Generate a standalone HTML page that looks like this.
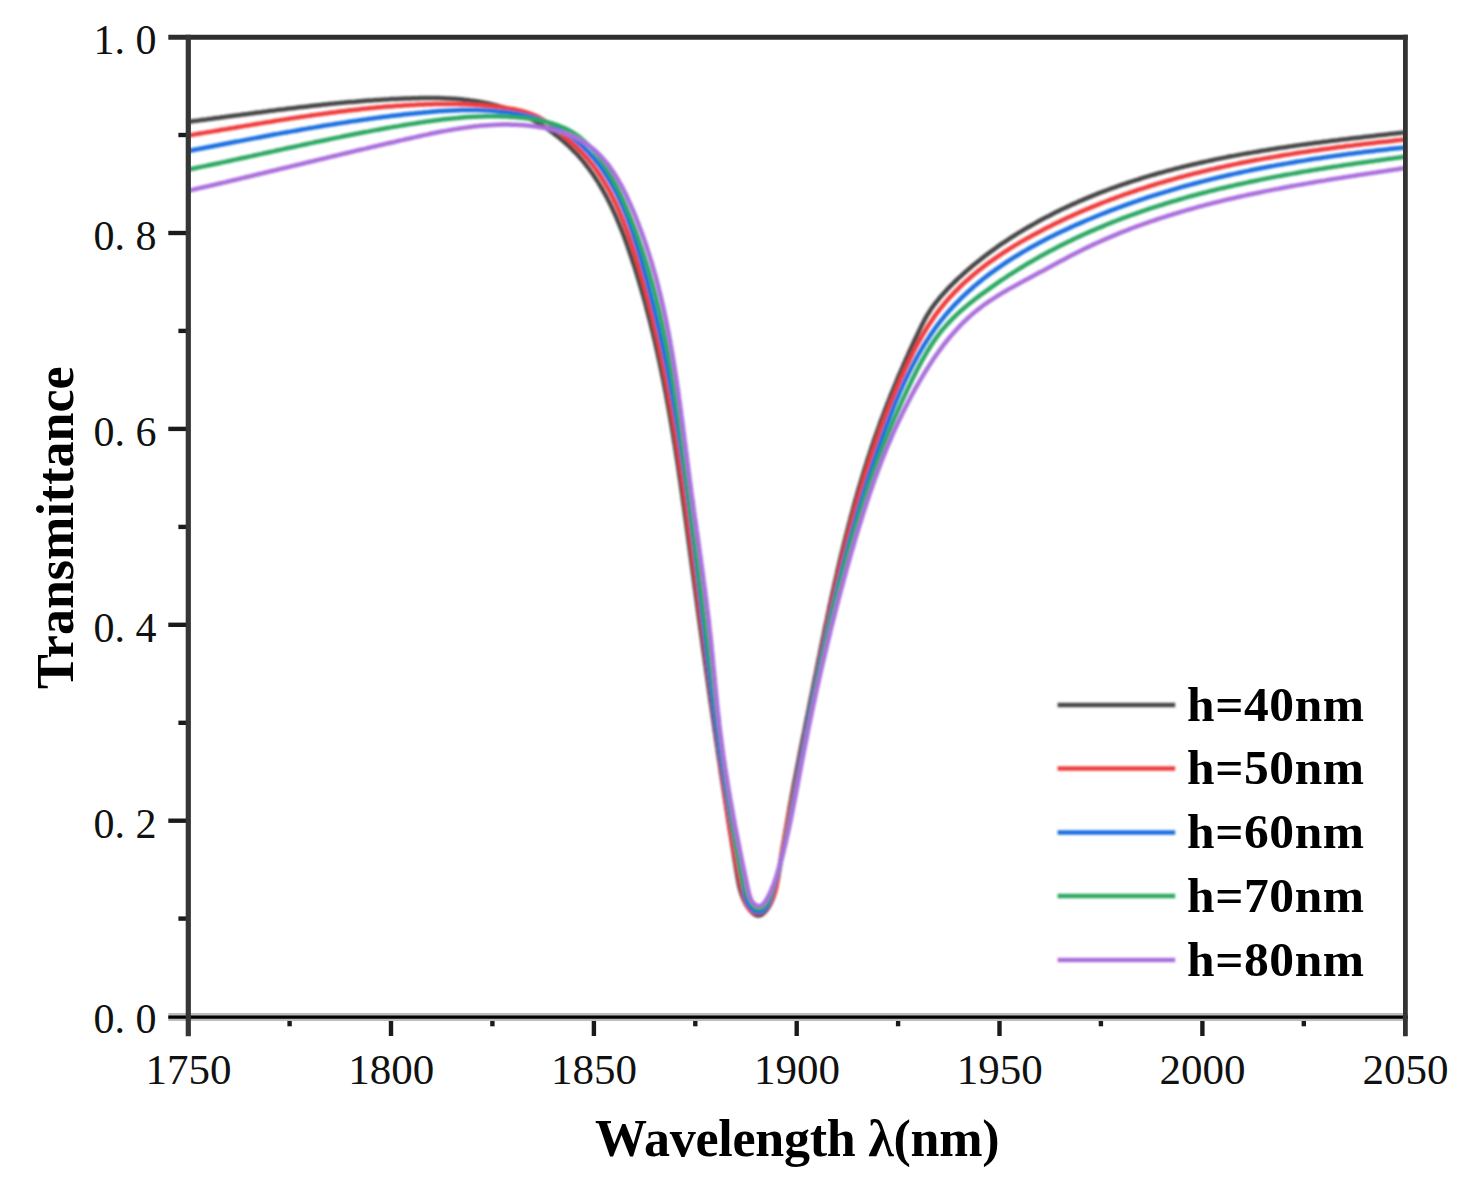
<!DOCTYPE html>
<html><head><meta charset="utf-8"><style>
html,body{margin:0;padding:0;background:#fff;width:1472px;height:1183px;overflow:hidden}
svg{position:absolute;left:0;top:0}
.yl{position:absolute;left:57.5px;width:99px;text-align:right;font:42px "Liberation Serif",serif;line-height:42px;color:#111;white-space:pre}
.xl{position:absolute;top:1049px;width:120px;text-align:center;font:43px "Liberation Serif",serif;line-height:42px;color:#111}
.lt{position:absolute;left:1187px;letter-spacing:0.6px;font:bold 49.5px "Liberation Serif",serif;line-height:52px;color:#000;white-space:pre}
.xt{position:absolute;left:595px;top:1112.5px;letter-spacing:-0.25px;font:bold 52px "Liberation Serif",serif;line-height:52px;color:#000;white-space:pre}
.yt{position:absolute;left:0;top:0;font:bold 52px "Liberation Serif",serif;line-height:52px;color:#000;white-space:pre;transform-origin:0 0;transform:translate(30px,689px) rotate(-90deg)}
</style></head><body>
<svg width="1472" height="1183" viewBox="0 0 1472 1183">
<defs><filter id="b" filterUnits="userSpaceOnUse" x="0" y="0" width="1472" height="1183"><feGaussianBlur stdDeviation="1.0"/></filter></defs>
<g fill="none" stroke-linejoin="round" stroke-linecap="butt" filter="url(#b)">
<path d="M188.4 121.7L191.0 121.4 193.6 121.1 196.2 120.7 198.8 120.4 201.4 120.0 204.0 119.7 206.6 119.4 209.2 119.0 211.8 118.7 214.4 118.3 217.0 118.0 219.5 117.7 222.1 117.3 224.7 117.0 227.3 116.6 229.9 116.3 232.5 115.9 235.1 115.6 237.7 115.2 240.3 114.9 242.9 114.5 245.5 114.2 248.1 113.9 250.7 113.5 253.3 113.2 255.9 112.8 258.5 112.5 261.1 112.2 263.7 111.8 266.3 111.5 268.9 111.1 271.5 110.8 274.1 110.5 276.7 110.1 279.3 109.8 281.9 109.5 284.5 109.2 287.1 108.8 289.7 108.5 292.3 108.2 294.9 107.9 297.5 107.6 300.1 107.3 302.7 107.0 305.3 106.7 307.9 106.4 310.5 106.1 313.1 105.8 315.7 105.5 318.3 105.2 320.9 104.9 323.5 104.6 326.1 104.4 328.7 104.1 331.4 103.8 334.0 103.6 336.6 103.3 339.2 103.1 341.8 102.8 344.4 102.6 347.0 102.3 349.6 102.1 352.2 101.9 354.9 101.7 357.5 101.4 360.1 101.2 362.7 101.0 365.3 100.8 367.9 100.6 370.6 100.4 373.2 100.3 375.8 100.1 378.4 99.9 381.0 99.7 383.6 99.6 386.3 99.4 388.9 99.3 391.5 99.1 394.1 99.0 396.8 98.9 399.4 98.8 402.0 98.7 404.6 98.6 407.3 98.5 409.9 98.4 412.5 98.3 415.2 98.2 417.8 98.2 420.4 98.1 423.0 98.1 425.7 98.0 428.3 98.0 430.9 98.0 433.5 98.1 436.2 98.1 438.8 98.1 441.4 98.2 444.0 98.3 446.6 98.4 449.2 98.5 451.9 98.7 454.5 98.8 457.1 99.0 459.7 99.2 462.2 99.5 464.8 99.8 467.4 100.0 470.0 100.4 472.6 100.7 475.1 101.1 477.7 101.5 480.2 101.9 482.8 102.4 485.3 102.9 487.9 103.4 490.4 104.0 492.9 104.6 495.4 105.2 497.9 105.9 500.4 106.6 502.9 107.4 505.4 108.2 507.8 109.0 510.3 109.9 512.7 110.8 515.2 111.7 517.6 112.7 520.0 113.8 522.4 114.9 524.8 116.0 527.2 117.1 529.6 118.3 531.9 119.6 534.2 120.8 536.5 122.1 538.8 123.5 541.1 124.9 543.4 126.3 545.6 127.7 547.8 129.2 550.0 130.7 552.1 132.3 554.3 133.9 556.4 135.5 558.5 137.1 560.5 138.8 562.6 140.5 564.6 142.2 566.5 144.0 568.5 145.7 570.4 147.6 572.2 149.4 574.1 151.3 575.9 153.1 577.7 155.1 579.4 157.0 581.1 158.9 582.8 160.9 584.4 162.9 586.0 165.0 587.6 167.0 589.2 169.1 590.7 171.2 592.2 173.3 593.7 175.4 595.1 177.5 596.5 179.7 597.9 181.9 599.3 184.1 600.6 186.3 601.9 188.5 603.2 190.8 604.5 193.1 605.7 195.3 607.0 197.6 608.1 200.0 609.3 202.3 610.5 204.6 611.6 207.0 612.7 209.3 613.8 211.7 614.9 214.1 616.0 216.5 617.0 218.9 618.0 221.3 619.0 223.7 620.0 226.2 621.0 228.6 622.0 231.0 622.9 233.5 623.9 236.0 624.8 238.4 625.7 240.9 626.6 243.4 627.5 245.9 628.3 248.4 629.2 250.9 630.0 253.4 630.9 255.9 631.7 258.4 632.5 260.9 633.4 263.4 634.2 265.9 635.0 268.4 635.8 270.9 636.5 273.4 637.3 275.9 638.1 278.4 638.9 281.0 639.6 283.5 640.4 286.0 641.1 288.5 641.8 291.0 642.5 293.6 643.3 296.1 644.0 298.6 644.7 301.2 645.4 303.7 646.1 306.2 646.7 308.8 647.4 311.3 648.1 313.8 648.7 316.4 649.4 318.9 650.0 321.5 650.7 324.0 651.3 326.5 651.9 329.1 652.6 331.6 653.2 334.2 653.8 336.7 654.4 339.3 655.0 341.8 655.6 344.4 656.2 346.9 656.7 349.5 657.3 352.1 657.9 354.6 658.4 357.2 659.0 359.7 659.6 362.3 660.1 364.9 660.6 367.4 661.2 370.0 661.7 372.6 662.2 375.1 662.8 377.7 663.3 380.3 663.8 382.8 664.3 385.4 664.8 388.0 665.3 390.5 665.8 393.1 666.3 395.7 666.7 398.3 667.2 400.8 667.7 403.4 668.2 406.0 668.6 408.6 669.1 411.2 669.6 413.7 670.0 416.3 670.5 418.9 670.9 421.5 671.3 424.1 671.8 426.6 672.2 429.2 672.7 431.8 673.1 434.4 673.5 437.0 673.9 439.6 674.3 442.2 674.8 444.7 675.2 447.3 675.6 449.9 676.0 452.5 676.4 455.1 676.8 457.7 677.2 460.3 677.6 462.9 678.0 465.5 678.4 468.1 678.8 470.6 679.1 473.2 679.5 475.8 679.9 478.4 680.3 481.0 680.7 483.6 681.0 486.2 681.4 488.8 681.8 491.4 682.2 494.0 682.5 496.6 682.9 499.2 683.2 501.8 683.6 504.4 684.0 507.0 684.3 509.5 684.7 512.1 685.0 514.7 685.4 517.3 685.8 519.9 686.1 522.5 686.5 525.1 686.8 527.7 687.2 530.3 687.5 532.9 687.9 535.5 688.2 538.1 688.6 540.7 688.9 543.3 689.3 545.9 689.6 548.5 690.0 551.1 690.3 553.7 690.7 556.2 691.0 558.8 691.4 561.4 691.7 564.0 692.1 566.6 692.4 569.2 692.8 571.8 693.1 574.4 693.5 577.0 693.8 579.6 694.2 582.2 694.5 584.8 694.9 587.4 695.2 589.9 695.6 592.5 695.9 595.1 696.3 597.7 696.6 600.3 697.0 602.9 697.3 605.5 697.7 608.1 698.0 610.7 698.4 613.2 698.7 615.8 699.1 618.4 699.4 621.0 699.8 623.6 700.1 626.2 700.5 628.8 700.9 631.4 701.2 634.0 701.6 636.5 701.9 639.1 702.3 641.7 702.6 644.3 703.0 646.9 703.3 649.5 703.7 652.1 704.1 654.7 704.4 657.2 704.8 659.8 705.1 662.4 705.5 665.0 705.9 667.6 706.2 670.2 706.6 672.8 707.0 675.4 707.3 678.0 707.7 680.5 708.0 683.1 708.4 685.7 708.8 688.3 709.1 690.9 709.5 693.5 709.9 696.1 710.2 698.7 710.6 701.3 711.0 703.8 711.4 706.4 711.7 709.0 712.1 711.6 712.5 714.2 712.8 716.8 713.2 719.4 713.6 722.0 714.0 724.6 714.3 727.2 714.7 729.8 715.1 732.4 715.5 734.9 715.8 737.5 716.2 740.1 716.6 742.7 717.0 745.3 717.4 747.9 717.7 750.5 718.1 753.1 718.5 755.7 718.9 758.3 719.3 760.9 719.7 763.5 720.1 766.1 720.4 768.7 720.8 771.3 721.2 773.9 721.6 776.5 722.0 779.1 722.4 781.7 722.8 784.3 723.2 786.9 723.6 789.5 724.0 792.1 724.4 794.7 724.8 797.3 725.2 799.9 725.6 802.5 726.0 805.1 726.4 807.7 726.8 810.3 727.2 812.9 727.6 815.5 728.0 818.1 728.4 820.7 728.8 823.3 729.2 825.9 729.6 828.5 730.0 831.1 730.5 833.7 730.9 836.3 731.3 838.9 731.7 841.5 732.1 844.2 732.5 846.8 733.0 849.4 733.4 852.0 733.8 854.6 734.2 857.2 734.6 859.8 735.1 862.4 735.5 865.1 735.9 867.7 736.3 870.3 736.8 872.9 737.2 875.5 737.7 878.1 738.2 880.7 738.7 883.3 739.2 885.8 739.9 888.4 740.5 890.8 741.3 893.3 742.1 895.7 743.0 898.0 744.0 900.3 745.1 902.6 746.3 904.8 747.7 906.9 749.1 908.9 750.7 910.9 752.5 912.7 754.4 914.3 756.4 915.3 758.5 915.5 760.7 915.0 762.9 913.7 764.9 911.9 766.8 909.7 768.5 907.3 770.0 904.9 771.2 902.4 772.2 900.0 773.2 897.5 773.9 895.0 774.6 892.4 775.2 889.9 775.8 887.4 776.4 884.8 776.9 882.3 777.4 879.7 778.0 877.2 778.4 874.6 778.9 872.0 779.4 869.5 779.9 866.9 780.3 864.3 780.7 861.7 781.2 859.2 781.6 856.6 782.0 854.0 782.4 851.4 782.8 848.8 783.2 846.2 783.6 843.7 784.1 841.1 784.5 838.5 784.9 835.9 785.3 833.3 785.7 830.7 786.1 828.1 786.6 825.6 787.0 823.0 787.4 820.4 787.9 817.8 788.3 815.2 788.8 812.7 789.2 810.1 789.7 807.5 790.1 804.9 790.6 802.4 791.1 799.8 791.5 797.2 792.0 794.6 792.5 792.1 793.0 789.5 793.4 786.9 793.9 784.3 794.4 781.8 794.9 779.2 795.4 776.6 795.9 774.1 796.4 771.5 796.9 768.9 797.4 766.4 797.9 763.8 798.4 761.2 798.9 758.7 799.4 756.1 799.9 753.5 800.4 751.0 800.9 748.4 801.4 745.8 801.9 743.3 802.4 740.7 802.9 738.1 803.4 735.5 804.0 733.0 804.5 730.4 805.0 727.8 805.5 725.3 806.0 722.7 806.5 720.1 807.0 717.6 807.6 715.0 808.1 712.4 808.6 709.9 809.1 707.3 809.6 704.7 810.1 702.2 810.6 699.6 811.1 697.0 811.7 694.5 812.2 691.9 812.7 689.3 813.2 686.7 813.7 684.2 814.2 681.6 814.7 679.0 815.2 676.5 815.8 673.9 816.3 671.3 816.8 668.7 817.3 666.2 817.8 663.6 818.3 661.0 818.8 658.5 819.4 655.9 819.9 653.3 820.4 650.7 820.9 648.2 821.5 645.6 822.0 643.0 822.5 640.5 823.0 637.9 823.6 635.3 824.1 632.8 824.6 630.2 825.1 627.6 825.7 625.1 826.2 622.5 826.8 619.9 827.3 617.4 827.8 614.8 828.4 612.2 828.9 609.7 829.5 607.1 830.0 604.5 830.6 602.0 831.1 599.4 831.7 596.8 832.3 594.3 832.8 591.7 833.4 589.2 834.0 586.6 834.5 584.0 835.1 581.5 835.7 578.9 836.3 576.4 836.9 573.8 837.4 571.3 838.0 568.7 838.6 566.2 839.2 563.6 839.8 561.1 840.4 558.5 841.0 556.0 841.6 553.4 842.3 550.9 842.9 548.3 843.5 545.8 844.1 543.3 844.8 540.7 845.4 538.2 846.0 535.6 846.7 533.1 847.3 530.6 848.0 528.0 848.6 525.5 849.3 523.0 850.0 520.4 850.6 517.9 851.3 515.4 852.0 512.9 852.7 510.3 853.3 507.8 854.0 505.3 854.7 502.8 855.4 500.2 856.2 497.7 856.9 495.2 857.6 492.7 858.3 490.2 859.0 487.7 859.8 485.2 860.5 482.7 861.3 480.2 862.0 477.6 862.8 475.1 863.5 472.6 864.3 470.1 865.1 467.6 865.9 465.2 866.7 462.7 867.4 460.2 868.2 457.7 869.1 455.2 869.9 452.7 870.7 450.2 871.5 447.7 872.3 445.3 873.2 442.8 874.0 440.3 874.9 437.8 875.7 435.4 876.6 432.9 877.5 430.4 878.4 428.0 879.3 425.5 880.1 423.1 881.0 420.6 882.0 418.1 882.9 415.7 883.8 413.2 884.7 410.8 885.7 408.3 886.6 405.9 887.5 403.5 888.5 401.0 889.5 398.6 890.4 396.1 891.4 393.7 892.4 391.3 893.4 388.9 894.4 386.4 895.4 384.0 896.4 381.6 897.4 379.2 898.4 376.7 899.4 374.3 900.5 371.9 901.5 369.5 902.6 367.1 903.6 364.7 904.7 362.3 905.7 359.9 906.8 357.5 907.9 355.1 908.9 352.7 910.0 350.3 911.1 347.9 912.2 345.5 913.3 343.1 914.4 340.7 915.5 338.3 916.7 335.9 917.8 333.6 918.9 331.2 920.1 328.8 921.2 326.4 922.4 324.1 923.6 321.7 924.8 319.4 926.1 317.1 927.4 314.9 928.8 312.7 930.2 310.5 931.6 308.3 933.1 306.2 934.7 304.1 936.2 302.1 937.9 300.1 939.5 298.0 941.2 296.1 942.9 294.1 944.7 292.2 946.4 290.3 948.2 288.4 950.0 286.5 951.9 284.7 953.7 282.8 955.6 281.0 957.5 279.2 959.4 277.4 961.4 275.7 963.3 273.9 965.2 272.2 967.2 270.4 969.2 268.7 971.2 267.0 973.2 265.3 975.2 263.7 977.3 262.0 979.3 260.4 981.4 258.7 983.5 257.1 985.6 255.5 987.7 253.9 989.8 252.4 991.9 250.8 994.0 249.3 996.2 247.7 998.3 246.2 1000.5 244.7 1002.7 243.2 1004.8 241.8 1007.0 240.3 1009.2 238.9 1011.4 237.4 1013.7 236.0 1015.9 234.6 1018.1 233.2 1020.4 231.8 1022.6 230.5 1024.9 229.1 1027.2 227.8 1029.4 226.5 1031.7 225.2 1034.0 223.9 1036.3 222.6 1038.6 221.3 1040.9 220.0 1043.2 218.8 1045.5 217.6 1047.9 216.4 1050.2 215.2 1052.5 214.0 1054.9 212.8 1057.2 211.6 1059.5 210.5 1061.9 209.3 1064.3 208.2 1066.6 207.1 1069.0 206.0 1071.4 204.9 1073.7 203.8 1076.1 202.8 1078.5 201.7 1080.9 200.7 1083.3 199.6 1085.7 198.6 1088.1 197.6 1090.5 196.6 1092.9 195.6 1095.4 194.7 1097.8 193.7 1100.2 192.7 1102.6 191.8 1105.1 190.9 1107.5 190.0 1110.0 189.0 1112.4 188.2 1114.9 187.3 1117.3 186.4 1119.8 185.5 1122.2 184.7 1124.7 183.8 1127.2 183.0 1129.7 182.2 1132.1 181.4 1134.6 180.5 1137.1 179.8 1139.6 179.0 1142.1 178.2 1144.6 177.4 1147.1 176.7 1149.6 175.9 1152.1 175.2 1154.6 174.5 1157.1 173.7 1159.6 173.0 1162.2 172.3 1164.7 171.6 1167.2 170.9 1169.7 170.3 1172.3 169.6 1174.8 168.9 1177.3 168.3 1179.9 167.6 1182.4 167.0 1185.0 166.4 1187.5 165.8 1190.0 165.2 1192.6 164.5 1195.2 164.0 1197.7 163.4 1200.3 162.8 1202.8 162.2 1205.4 161.6 1207.9 161.1 1210.5 160.5 1213.1 160.0 1215.7 159.4 1218.2 158.9 1220.8 158.4 1223.4 157.9 1225.9 157.4 1228.5 156.8 1231.1 156.3 1233.7 155.9 1236.3 155.4 1238.9 154.9 1241.4 154.4 1244.0 153.9 1246.6 153.5 1249.2 153.0 1251.8 152.6 1254.4 152.1 1257.0 151.7 1259.6 151.2 1262.2 150.8 1264.8 150.4 1267.4 150.0 1270.0 149.5 1272.6 149.1 1275.2 148.7 1277.8 148.3 1280.4 147.9 1283.0 147.5 1285.6 147.2 1288.2 146.8 1290.8 146.4 1293.4 146.0 1296.0 145.6 1298.6 145.3 1301.2 144.9 1303.8 144.5 1306.4 144.2 1309.0 143.8 1311.6 143.5 1314.2 143.1 1316.8 142.8 1319.4 142.5 1322.0 142.1 1324.6 141.8 1327.2 141.5 1329.8 141.1 1332.4 140.8 1335.0 140.5 1337.6 140.2 1340.2 139.8 1342.8 139.5 1345.4 139.2 1348.0 138.9 1350.6 138.6 1353.2 138.3 1355.8 138.0 1358.4 137.7 1361.0 137.4 1363.6 137.1 1366.2 136.8 1368.8 136.5 1371.4 136.2 1374.0 135.9 1376.6 135.6 1379.1 135.3 1381.7 135.0 1384.3 134.7 1386.9 134.4 1389.5 134.1 1392.0 133.8 1394.6 133.6 1397.2 133.3 1399.8 133.0 1402.3 132.7 1404.9 132.4" stroke="#474747" stroke-width="4.5"/>
<path d="M188.4 135.4L191.0 135.0 193.6 134.6 196.1 134.1 198.7 133.7 201.3 133.3 203.8 132.9 206.4 132.4 209.0 132.0 211.5 131.6 214.1 131.1 216.7 130.7 219.3 130.3 221.8 129.8 224.4 129.4 227.0 129.0 229.6 128.5 232.1 128.1 234.7 127.7 237.3 127.2 239.9 126.8 242.4 126.4 245.0 125.9 247.6 125.5 250.2 125.1 252.7 124.6 255.3 124.2 257.9 123.8 260.5 123.4 263.1 122.9 265.6 122.5 268.2 122.1 270.8 121.7 273.4 121.3 276.0 120.8 278.5 120.4 281.1 120.0 283.7 119.6 286.3 119.2 288.9 118.8 291.5 118.4 294.0 118.0 296.6 117.6 299.2 117.2 301.8 116.8 304.4 116.5 307.0 116.1 309.6 115.7 312.2 115.3 314.7 115.0 317.3 114.6 319.9 114.2 322.5 113.9 325.1 113.5 327.7 113.2 330.3 112.8 332.9 112.5 335.5 112.2 338.1 111.8 340.6 111.5 343.2 111.2 345.8 110.9 348.4 110.6 351.0 110.3 353.6 110.0 356.2 109.7 358.8 109.4 361.4 109.1 364.0 108.8 366.6 108.6 369.2 108.3 371.8 108.0 374.4 107.8 377.0 107.5 379.6 107.3 382.2 107.1 384.8 106.8 387.4 106.6 390.0 106.4 392.6 106.2 395.2 106.0 397.8 105.8 400.4 105.7 403.0 105.5 405.6 105.3 408.2 105.2 410.8 105.0 413.4 104.9 416.0 104.8 418.6 104.6 421.2 104.5 423.8 104.4 426.4 104.3 429.0 104.2 431.6 104.2 434.2 104.1 436.8 104.1 439.4 104.0 442.0 104.0 444.6 104.0 447.2 104.0 449.8 104.0 452.4 104.0 455.0 104.1 457.7 104.1 460.3 104.2 462.9 104.3 465.5 104.3 468.1 104.5 470.7 104.6 473.3 104.7 475.9 104.9 478.5 105.1 481.2 105.2 483.8 105.5 486.4 105.7 489.0 105.9 491.6 106.2 494.2 106.5 496.9 106.8 499.5 107.1 502.1 107.4 504.7 107.8 507.3 108.2 509.9 108.6 512.5 109.0 515.1 109.5 517.7 110.1 520.2 110.7 522.7 111.3 525.2 112.0 527.7 112.8 530.1 113.6 532.5 114.5 534.9 115.5 537.2 116.6 539.5 117.8 541.7 119.0 543.9 120.4 546.1 121.8 548.2 123.2 550.3 124.8 552.4 126.4 554.4 128.0 556.4 129.7 558.5 131.4 560.5 133.1 562.5 134.8 564.5 136.5 566.5 138.2 568.5 140.0 570.5 141.7 572.5 143.5 574.5 145.2 576.4 147.0 578.3 148.9 580.1 150.7 582.0 152.6 583.8 154.5 585.5 156.4 587.2 158.3 588.9 160.3 590.5 162.3 592.2 164.4 593.7 166.4 595.3 168.5 596.8 170.6 598.3 172.7 599.7 174.8 601.1 177.0 602.5 179.2 603.9 181.3 605.2 183.6 606.5 185.8 607.8 188.0 609.1 190.3 610.3 192.6 611.5 194.9 612.7 197.2 613.8 199.6 615.0 201.9 616.1 204.3 617.2 206.6 618.2 209.0 619.3 211.4 620.3 213.8 621.3 216.3 622.3 218.7 623.3 221.1 624.2 223.6 625.2 226.0 626.1 228.5 627.0 231.0 627.9 233.5 628.8 236.0 629.7 238.4 630.5 241.0 631.3 243.5 632.2 246.0 633.0 248.5 633.8 251.0 634.6 253.5 635.4 256.0 636.2 258.6 636.9 261.1 637.7 263.6 638.5 266.1 639.2 268.6 640.0 271.2 640.7 273.7 641.4 276.2 642.2 278.8 642.9 281.3 643.6 283.8 644.3 286.3 645.0 288.9 645.7 291.4 646.3 293.9 647.0 296.5 647.7 299.0 648.4 301.5 649.0 304.1 649.7 306.6 650.3 309.1 650.9 311.7 651.6 314.2 652.2 316.7 652.8 319.3 653.4 321.8 654.0 324.3 654.6 326.9 655.2 329.4 655.8 332.0 656.4 334.5 657.0 337.0 657.5 339.6 658.1 342.1 658.7 344.7 659.2 347.2 659.8 349.8 660.3 352.3 660.9 354.9 661.4 357.4 661.9 360.0 662.5 362.5 663.0 365.1 663.5 367.6 664.0 370.2 664.5 372.7 665.0 375.3 665.5 377.8 666.0 380.4 666.5 382.9 667.0 385.5 667.5 388.0 667.9 390.6 668.4 393.1 668.9 395.7 669.3 398.3 669.8 400.8 670.3 403.4 670.7 405.9 671.2 408.5 671.6 411.1 672.0 413.6 672.5 416.2 672.9 418.7 673.4 421.3 673.8 423.9 674.2 426.4 674.6 429.0 675.0 431.6 675.5 434.1 675.9 436.7 676.3 439.3 676.7 441.8 677.1 444.4 677.5 447.0 677.9 449.6 678.3 452.1 678.7 454.7 679.1 457.3 679.4 459.8 679.8 462.4 680.2 465.0 680.6 467.6 681.0 470.1 681.3 472.7 681.7 475.3 682.1 477.9 682.5 480.5 682.8 483.0 683.2 485.6 683.6 488.2 683.9 490.8 684.3 493.4 684.6 496.0 685.0 498.5 685.3 501.1 685.7 503.7 686.1 506.3 686.4 508.9 686.8 511.5 687.1 514.1 687.5 516.6 687.8 519.2 688.2 521.8 688.5 524.4 688.8 527.0 689.2 529.6 689.5 532.2 689.9 534.8 690.2 537.4 690.6 540.0 690.9 542.6 691.2 545.2 691.6 547.8 691.9 550.4 692.3 553.0 692.6 555.6 693.0 558.2 693.3 560.8 693.6 563.4 694.0 566.0 694.3 568.6 694.7 571.2 695.0 573.8 695.4 576.4 695.7 579.0 696.0 581.6 696.4 584.2 696.7 586.8 697.1 589.4 697.4 592.0 697.8 594.6 698.1 597.2 698.4 599.8 698.8 602.4 699.1 605.0 699.5 607.7 699.8 610.3 700.2 612.9 700.5 615.5 700.8 618.1 701.2 620.7 701.5 623.3 701.9 625.9 702.2 628.5 702.6 631.1 702.9 633.7 703.3 636.3 703.6 638.9 703.9 641.5 704.3 644.1 704.6 646.7 705.0 649.3 705.3 651.9 705.7 654.5 706.0 657.1 706.4 659.7 706.7 662.3 707.1 664.9 707.4 667.5 707.8 670.1 708.1 672.7 708.4 675.3 708.8 677.9 709.1 680.5 709.5 683.1 709.8 685.7 710.2 688.3 710.5 690.8 710.9 693.4 711.2 696.0 711.6 698.6 711.9 701.2 712.3 703.8 712.6 706.3 713.0 708.9 713.3 711.5 713.7 714.1 714.0 716.6 714.4 719.2 714.7 721.8 715.1 724.3 715.4 726.9 715.8 729.5 716.1 732.0 716.5 734.6 716.8 737.2 717.2 739.7 717.5 742.3 717.9 744.8 718.2 747.4 718.6 749.9 718.9 752.5 719.3 755.0 719.6 757.5 720.0 760.1 720.3 762.6 720.7 765.1 721.0 767.7 721.4 770.2 721.7 772.7 722.1 775.3 722.4 777.8 722.8 780.3 723.1 782.8 723.5 785.3 723.8 787.8 724.2 790.4 724.5 792.9 724.9 795.4 725.3 797.9 725.6 800.4 726.0 802.9 726.4 805.4 726.7 807.9 727.1 810.5 727.5 813.0 727.9 815.5 728.3 818.0 728.7 820.6 729.1 823.1 729.5 825.7 729.9 828.2 730.3 830.8 730.7 833.3 731.2 835.9 731.6 838.5 732.1 841.1 732.5 843.7 733.0 846.3 733.5 848.9 734.0 851.5 734.4 854.2 735.0 856.8 735.5 859.5 736.0 862.2 736.5 864.9 737.1 867.6 737.6 870.3 738.2 873.0 738.8 875.7 739.4 878.5 740.0 881.3 740.6 884.0 741.3 886.9 741.9 889.7 742.6 892.5 743.3 895.3 744.1 898.0 744.9 900.7 745.9 903.1 746.9 905.4 748.1 907.5 749.4 909.3 751.0 910.8 752.7 912.0 754.6 912.8 756.6 913.2 758.7 913.2 760.8 912.7 762.8 911.7 764.7 910.3 766.5 908.5 768.2 906.3 769.8 904.0 771.2 901.4 772.4 898.8 773.5 896.2 774.5 893.6 775.3 891.0 776.0 888.4 776.6 885.8 777.1 883.2 777.6 880.6 778.0 878.0 778.3 875.4 778.7 872.8 779.0 870.2 779.4 867.6 779.8 865.0 780.1 862.4 780.5 859.9 780.9 857.3 781.4 854.7 781.8 852.1 782.2 849.6 782.7 847.0 783.1 844.4 783.6 841.9 784.1 839.3 784.6 836.7 785.0 834.2 785.5 831.6 786.0 829.1 786.5 826.5 787.0 823.9 787.6 821.4 788.1 818.8 788.6 816.3 789.1 813.7 789.6 811.2 790.2 808.6 790.7 806.1 791.2 803.5 791.7 800.9 792.2 798.4 792.8 795.8 793.3 793.3 793.8 790.7 794.3 788.2 794.8 785.6 795.3 783.1 795.8 780.5 796.4 777.9 796.9 775.4 797.4 772.8 797.9 770.3 798.4 767.7 798.9 765.1 799.4 762.6 799.9 760.0 800.4 757.5 800.9 754.9 801.4 752.3 801.9 749.8 802.4 747.2 802.9 744.7 803.4 742.1 803.9 739.5 804.4 737.0 804.9 734.4 805.4 731.8 805.9 729.3 806.4 726.7 806.9 724.2 807.4 721.6 808.0 719.0 808.5 716.5 809.0 713.9 809.5 711.3 810.0 708.8 810.5 706.2 811.0 703.7 811.5 701.1 812.0 698.5 812.5 696.0 813.0 693.4 813.5 690.8 814.0 688.3 814.5 685.7 815.0 683.2 815.5 680.6 816.0 678.0 816.6 675.5 817.1 672.9 817.6 670.4 818.1 667.8 818.6 665.2 819.1 662.7 819.7 660.1 820.2 657.6 820.7 655.0 821.2 652.4 821.7 649.9 822.3 647.3 822.8 644.8 823.3 642.2 823.9 639.6 824.4 637.1 824.9 634.5 825.5 632.0 826.0 629.4 826.5 626.9 827.1 624.3 827.6 621.7 828.2 619.2 828.7 616.6 829.3 614.1 829.8 611.5 830.4 609.0 831.0 606.4 831.5 603.9 832.1 601.3 832.7 598.8 833.2 596.2 833.8 593.7 834.4 591.1 835.0 588.6 835.5 586.0 836.1 583.5 836.7 581.0 837.3 578.4 837.9 575.9 838.5 573.3 839.1 570.8 839.7 568.2 840.3 565.7 840.9 563.2 841.5 560.6 842.2 558.1 842.8 555.6 843.4 553.0 844.1 550.5 844.7 548.0 845.3 545.4 846.0 542.9 846.6 540.4 847.3 537.8 847.9 535.3 848.6 532.8 849.3 530.3 849.9 527.7 850.6 525.2 851.3 522.7 852.0 520.2 852.6 517.7 853.3 515.2 854.0 512.6 854.7 510.1 855.4 507.6 856.2 505.1 856.9 502.6 857.6 500.1 858.3 497.6 859.1 495.1 859.8 492.6 860.5 490.1 861.3 487.6 862.0 485.1 862.8 482.6 863.6 480.1 864.3 477.6 865.1 475.1 865.9 472.6 866.7 470.1 867.5 467.6 868.3 465.2 869.1 462.7 869.9 460.2 870.7 457.7 871.5 455.2 872.4 452.8 873.2 450.3 874.1 447.8 874.9 445.4 875.8 442.9 876.6 440.4 877.5 438.0 878.4 435.5 879.3 433.0 880.1 430.6 881.0 428.1 881.9 425.7 882.9 423.2 883.8 420.8 884.7 418.3 885.6 415.9 886.6 413.4 887.5 411.0 888.5 408.6 889.4 406.1 890.4 403.7 891.4 401.3 892.4 398.8 893.4 396.4 894.4 394.0 895.4 391.6 896.4 389.2 897.4 386.7 898.4 384.3 899.5 381.9 900.5 379.5 901.6 377.1 902.7 374.7 903.7 372.3 904.8 369.9 905.9 367.5 907.0 365.1 908.1 362.8 909.3 360.4 910.4 358.0 911.6 355.7 912.7 353.3 913.9 351.0 915.1 348.7 916.3 346.3 917.6 344.0 918.8 341.7 920.1 339.5 921.4 337.2 922.7 334.9 924.0 332.7 925.3 330.5 926.7 328.2 928.1 326.1 929.5 323.9 930.9 321.7 932.4 319.6 933.8 317.4 935.3 315.3 936.8 313.2 938.4 311.2 940.0 309.1 941.6 307.1 943.2 305.1 944.8 303.1 946.5 301.1 948.2 299.2 949.9 297.3 951.7 295.4 953.4 293.5 955.2 291.6 957.0 289.8 958.9 288.0 960.7 286.2 962.6 284.4 964.5 282.6 966.4 280.9 968.4 279.2 970.3 277.5 972.3 275.8 974.3 274.1 976.3 272.4 978.3 270.8 980.4 269.2 982.4 267.6 984.5 266.0 986.6 264.4 988.7 262.9 990.8 261.3 993.0 259.8 995.1 258.3 997.3 256.8 999.5 255.3 1001.7 253.9 1003.9 252.4 1006.1 251.0 1008.3 249.6 1010.5 248.2 1012.8 246.8 1015.0 245.4 1017.3 244.1 1019.6 242.7 1021.8 241.4 1024.1 240.1 1026.4 238.8 1028.7 237.5 1031.0 236.2 1033.3 234.9 1035.6 233.7 1038.0 232.4 1040.3 231.2 1042.6 230.0 1045.0 228.8 1047.3 227.6 1049.6 226.4 1052.0 225.2 1054.3 224.0 1056.7 222.9 1059.1 221.7 1061.4 220.6 1063.8 219.5 1066.1 218.4 1068.5 217.3 1070.9 216.2 1073.3 215.1 1075.7 214.0 1078.0 213.0 1080.4 211.9 1082.8 210.9 1085.2 209.8 1087.6 208.8 1090.0 207.8 1092.4 206.8 1094.9 205.8 1097.3 204.9 1099.7 203.9 1102.1 202.9 1104.5 202.0 1107.0 201.0 1109.4 200.1 1111.8 199.2 1114.3 198.3 1116.7 197.4 1119.2 196.5 1121.6 195.6 1124.0 194.7 1126.5 193.9 1129.0 193.0 1131.4 192.2 1133.9 191.3 1136.3 190.5 1138.8 189.7 1141.3 188.9 1143.8 188.1 1146.2 187.3 1148.7 186.5 1151.2 185.7 1153.7 185.0 1156.2 184.2 1158.6 183.4 1161.1 182.7 1163.6 182.0 1166.1 181.2 1168.6 180.5 1171.1 179.8 1173.6 179.1 1176.1 178.4 1178.6 177.7 1181.2 177.0 1183.7 176.4 1186.2 175.7 1188.7 175.0 1191.2 174.4 1193.7 173.7 1196.3 173.1 1198.8 172.5 1201.3 171.9 1203.9 171.2 1206.4 170.6 1208.9 170.0 1211.5 169.4 1214.0 168.9 1216.5 168.3 1219.1 167.7 1221.6 167.1 1224.2 166.6 1226.7 166.0 1229.3 165.5 1231.8 164.9 1234.4 164.4 1236.9 163.9 1239.5 163.3 1242.0 162.8 1244.6 162.3 1247.2 161.8 1249.7 161.3 1252.3 160.8 1254.8 160.3 1257.4 159.8 1260.0 159.4 1262.5 158.9 1265.1 158.4 1267.7 158.0 1270.3 157.5 1272.8 157.1 1275.4 156.6 1278.0 156.2 1280.6 155.7 1283.2 155.3 1285.7 154.9 1288.3 154.5 1290.9 154.1 1293.5 153.6 1296.1 153.2 1298.6 152.8 1301.2 152.4 1303.8 152.0 1306.4 151.7 1309.0 151.3 1311.6 150.9 1314.2 150.5 1316.8 150.2 1319.4 149.8 1322.0 149.4 1324.5 149.1 1327.1 148.7 1329.7 148.4 1332.3 148.0 1334.9 147.7 1337.5 147.3 1340.1 147.0 1342.7 146.7 1345.3 146.3 1347.9 146.0 1350.5 145.7 1353.1 145.4 1355.7 145.0 1358.3 144.7 1360.9 144.4 1363.5 144.1 1366.1 143.8 1368.7 143.5 1371.3 143.2 1373.9 142.9 1376.5 142.6 1379.1 142.3 1381.7 142.0 1384.3 141.7 1386.9 141.5 1389.5 141.2 1392.1 140.9 1394.7 140.6 1397.3 140.3 1399.9 140.1 1402.5 139.8 1405.1 139.5" stroke="#f03c3c" stroke-width="4.5"/>
<path d="M188.3 151.0L190.9 150.5 193.5 150.0 196.1 149.5 198.6 149.0 201.2 148.5 203.8 148.0 206.3 147.5 208.9 147.0 211.5 146.5 214.0 146.0 216.6 145.5 219.2 145.0 221.7 144.5 224.3 144.0 226.8 143.5 229.4 143.0 231.9 142.5 234.5 142.0 237.0 141.5 239.6 141.1 242.1 140.6 244.7 140.1 247.2 139.6 249.8 139.1 252.3 138.6 254.9 138.1 257.4 137.7 260.0 137.2 262.5 136.7 265.1 136.2 267.6 135.7 270.1 135.3 272.7 134.8 275.2 134.3 277.8 133.9 280.3 133.4 282.9 132.9 285.4 132.5 287.9 132.0 290.5 131.6 293.0 131.1 295.6 130.7 298.1 130.2 300.7 129.8 303.2 129.3 305.8 128.9 308.3 128.4 310.8 128.0 313.4 127.6 315.9 127.1 318.5 126.7 321.0 126.3 323.6 125.8 326.1 125.4 328.7 125.0 331.2 124.6 333.8 124.2 336.3 123.8 338.9 123.4 341.5 123.0 344.0 122.6 346.6 122.2 349.1 121.8 351.7 121.4 354.3 121.0 356.8 120.7 359.4 120.3 362.0 119.9 364.5 119.6 367.1 119.2 369.7 118.8 372.3 118.5 374.8 118.1 377.4 117.8 380.0 117.4 382.6 117.1 385.2 116.8 387.7 116.5 390.3 116.1 392.9 115.8 395.5 115.5 398.1 115.2 400.7 114.9 403.3 114.6 405.9 114.3 408.5 114.0 411.1 113.7 413.8 113.5 416.4 113.2 419.0 112.9 421.6 112.7 424.2 112.4 426.8 112.2 429.5 112.0 432.1 111.7 434.7 111.5 437.3 111.3 440.0 111.1 442.6 111.0 445.2 110.8 447.8 110.7 450.4 110.5 453.1 110.4 455.7 110.3 458.3 110.2 460.9 110.1 463.5 110.1 466.1 110.0 468.7 110.0 471.3 110.0 473.9 110.0 476.5 110.1 479.1 110.1 481.7 110.2 484.3 110.3 486.8 110.4 489.4 110.6 492.0 110.8 494.6 110.9 497.1 111.2 499.7 111.4 502.2 111.7 504.7 112.0 507.3 112.3 509.8 112.6 512.3 113.0 514.8 113.4 517.3 113.8 519.8 114.3 522.3 114.8 524.8 115.3 527.3 115.9 529.7 116.5 532.2 117.1 534.6 117.8 537.0 118.5 539.5 119.3 541.9 120.1 544.2 121.0 546.6 122.0 549.0 123.0 551.3 124.1 553.6 125.3 556.0 126.5 558.2 127.8 560.5 129.1 562.8 130.6 565.0 132.1 567.2 133.6 569.4 135.2 571.5 136.8 573.6 138.5 575.7 140.3 577.7 142.0 579.7 143.8 581.7 145.7 583.6 147.5 585.5 149.4 587.3 151.3 589.1 153.2 590.9 155.2 592.6 157.1 594.3 159.1 595.9 161.2 597.5 163.2 599.1 165.2 600.6 167.3 602.1 169.4 603.6 171.5 605.0 173.7 606.4 175.8 607.8 178.0 609.1 180.2 610.4 182.4 611.7 184.6 613.0 186.9 614.2 189.1 615.4 191.4 616.6 193.7 617.7 196.0 618.8 198.3 619.9 200.6 621.0 203.0 622.0 205.3 623.1 207.7 624.1 210.1 625.0 212.4 626.0 214.8 627.0 217.2 627.9 219.7 628.8 222.1 629.7 224.5 630.6 227.0 631.4 229.4 632.3 231.9 633.1 234.3 633.9 236.8 634.7 239.3 635.5 241.7 636.3 244.2 637.1 246.7 637.8 249.2 638.6 251.7 639.3 254.2 640.1 256.7 640.8 259.2 641.5 261.7 642.2 264.2 642.9 266.7 643.6 269.2 644.3 271.7 645.0 274.2 645.7 276.7 646.4 279.2 647.1 281.7 647.7 284.2 648.4 286.8 649.1 289.3 649.7 291.8 650.4 294.3 651.0 296.8 651.6 299.3 652.3 301.9 652.9 304.4 653.5 306.9 654.1 309.4 654.7 311.9 655.3 314.5 655.9 317.0 656.5 319.5 657.1 322.1 657.7 324.6 658.3 327.1 658.9 329.6 659.4 332.2 660.0 334.7 660.5 337.3 661.1 339.8 661.6 342.3 662.2 344.9 662.7 347.4 663.3 349.9 663.8 352.5 664.3 355.0 664.8 357.6 665.3 360.1 665.9 362.6 666.4 365.2 666.9 367.7 667.4 370.3 667.9 372.8 668.4 375.4 668.8 377.9 669.3 380.5 669.8 383.0 670.3 385.6 670.7 388.1 671.2 390.7 671.7 393.2 672.1 395.8 672.6 398.4 673.0 400.9 673.5 403.5 673.9 406.0 674.4 408.6 674.8 411.1 675.2 413.7 675.7 416.3 676.1 418.8 676.5 421.4 676.9 423.9 677.4 426.5 677.8 429.1 678.2 431.6 678.6 434.2 679.0 436.8 679.4 439.3 679.8 441.9 680.2 444.5 680.6 447.0 681.0 449.6 681.4 452.2 681.7 454.7 682.1 457.3 682.5 459.9 682.9 462.4 683.3 465.0 683.6 467.6 684.0 470.2 684.4 472.7 684.7 475.3 685.1 477.9 685.4 480.5 685.8 483.0 686.2 485.6 686.5 488.2 686.9 490.8 687.2 493.3 687.6 495.9 687.9 498.5 688.2 501.1 688.6 503.6 688.9 506.2 689.3 508.8 689.6 511.4 689.9 513.9 690.3 516.5 690.6 519.1 690.9 521.7 691.2 524.3 691.6 526.8 691.9 529.4 692.2 532.0 692.5 534.6 692.9 537.2 693.2 539.7 693.5 542.3 693.8 544.9 694.1 547.5 694.5 550.1 694.8 552.7 695.1 555.2 695.4 557.8 695.7 560.4 696.0 563.0 696.3 565.6 696.6 568.1 696.9 570.7 697.3 573.3 697.6 575.9 697.9 578.5 698.2 581.1 698.5 583.6 698.8 586.2 699.1 588.8 699.4 591.4 699.7 594.0 700.0 596.5 700.3 599.1 700.6 601.7 700.9 604.3 701.2 606.9 701.5 609.5 701.8 612.0 702.1 614.6 702.4 617.2 702.7 619.8 703.0 622.4 703.4 624.9 703.7 627.5 704.0 630.1 704.3 632.7 704.6 635.3 704.9 637.9 705.2 640.4 705.5 643.0 705.8 645.6 706.1 648.2 706.4 650.8 706.7 653.3 707.1 655.9 707.4 658.5 707.7 661.1 708.0 663.6 708.3 666.2 708.6 668.8 709.0 671.4 709.3 674.0 709.6 676.5 709.9 679.1 710.2 681.7 710.6 684.3 710.9 686.8 711.2 689.4 711.5 692.0 711.9 694.6 712.2 697.1 712.5 699.7 712.9 702.3 713.2 704.8 713.6 707.4 713.9 710.0 714.2 712.6 714.6 715.1 714.9 717.7 715.3 720.3 715.6 722.8 716.0 725.4 716.3 728.0 716.7 730.5 717.1 733.1 717.4 735.7 717.8 738.2 718.2 740.8 718.5 743.4 718.9 745.9 719.3 748.5 719.6 751.1 720.0 753.6 720.4 756.2 720.8 758.7 721.2 761.3 721.6 763.9 722.0 766.4 722.4 769.0 722.8 771.5 723.2 774.1 723.6 776.6 724.0 779.2 724.4 781.8 724.8 784.3 725.2 786.9 725.6 789.4 726.0 792.0 726.5 794.5 726.9 797.1 727.3 799.6 727.8 802.2 728.2 804.7 728.6 807.3 729.1 809.8 729.5 812.4 730.0 814.9 730.4 817.5 730.9 820.0 731.3 822.6 731.8 825.1 732.2 827.7 732.7 830.2 733.2 832.8 733.6 835.4 734.1 837.9 734.5 840.5 735.0 843.0 735.5 845.6 736.0 848.2 736.4 850.7 736.9 853.3 737.4 855.8 737.8 858.4 738.3 861.0 738.8 863.6 739.3 866.1 739.8 868.7 740.2 871.3 740.7 873.9 741.2 876.4 741.7 879.0 742.2 881.6 742.7 884.2 743.2 886.8 743.6 889.4 744.1 892.0 744.7 894.6 745.3 897.1 746.1 899.5 747.0 901.9 748.1 904.2 749.4 906.3 751.1 908.3 753.0 910.1 755.2 911.6 757.7 912.3 760.4 911.9 762.9 910.7 765.0 909.0 766.7 907.1 768.1 904.9 769.1 902.5 770.1 900.1 770.9 897.6 771.7 895.0 772.5 892.5 773.2 890.0 774.0 887.5 774.7 885.0 775.4 882.5 776.1 879.9 776.8 877.4 777.5 874.9 778.1 872.4 778.8 869.9 779.4 867.3 780.0 864.8 780.6 862.3 781.2 859.8 781.8 857.3 782.4 854.7 783.0 852.2 783.5 849.7 784.1 847.2 784.6 844.6 785.1 842.1 785.7 839.6 786.2 837.0 786.7 834.5 787.2 832.0 787.7 829.4 788.2 826.9 788.7 824.4 789.1 821.8 789.6 819.3 790.1 816.7 790.6 814.2 791.1 811.7 791.5 809.1 792.0 806.6 792.5 804.0 792.9 801.5 793.4 798.9 793.9 796.4 794.4 793.8 794.8 791.3 795.3 788.7 795.8 786.1 796.3 783.6 796.7 781.0 797.2 778.5 797.7 775.9 798.2 773.3 798.6 770.8 799.1 768.2 799.6 765.7 800.1 763.1 800.6 760.5 801.1 758.0 801.5 755.4 802.0 752.8 802.5 750.3 803.0 747.7 803.5 745.1 804.0 742.6 804.5 740.0 805.0 737.4 805.5 734.9 806.0 732.3 806.4 729.7 806.9 727.2 807.4 724.6 807.9 722.1 808.4 719.5 808.9 716.9 809.4 714.4 809.9 711.8 810.5 709.3 811.0 706.7 811.5 704.2 812.0 701.6 812.5 699.0 813.0 696.5 813.5 693.9 814.0 691.4 814.5 688.8 815.1 686.3 815.6 683.8 816.1 681.2 816.6 678.7 817.2 676.1 817.7 673.6 818.2 671.0 818.7 668.5 819.3 666.0 819.8 663.4 820.4 660.9 820.9 658.4 821.4 655.8 822.0 653.3 822.5 650.8 823.1 648.2 823.6 645.7 824.2 643.2 824.7 640.6 825.3 638.1 825.9 635.6 826.4 633.1 827.0 630.5 827.5 628.0 828.1 625.5 828.7 623.0 829.3 620.4 829.8 617.9 830.4 615.4 831.0 612.9 831.6 610.4 832.2 607.9 832.8 605.3 833.4 602.8 834.0 600.3 834.6 597.8 835.2 595.3 835.8 592.8 836.4 590.3 837.0 587.8 837.6 585.3 838.3 582.7 838.9 580.2 839.5 577.7 840.2 575.2 840.8 572.7 841.4 570.2 842.1 567.7 842.7 565.2 843.4 562.7 844.0 560.2 844.7 557.7 845.4 555.2 846.0 552.7 846.7 550.2 847.4 547.7 848.0 545.2 848.7 542.7 849.4 540.2 850.1 537.8 850.8 535.3 851.5 532.8 852.2 530.3 852.9 527.8 853.6 525.3 854.3 522.8 855.1 520.3 855.8 517.8 856.5 515.4 857.3 512.9 858.0 510.4 858.7 507.9 859.5 505.4 860.2 502.9 861.0 500.4 861.8 498.0 862.5 495.5 863.3 493.0 864.1 490.5 864.9 488.0 865.7 485.6 866.4 483.1 867.2 480.6 868.0 478.1 868.9 475.7 869.7 473.2 870.5 470.7 871.3 468.2 872.1 465.8 873.0 463.3 873.8 460.8 874.7 458.3 875.5 455.9 876.4 453.4 877.2 450.9 878.1 448.5 879.0 446.0 879.9 443.5 880.7 441.1 881.6 438.6 882.5 436.1 883.4 433.7 884.3 431.2 885.3 428.7 886.2 426.3 887.1 423.8 888.1 421.3 889.0 418.9 889.9 416.4 890.9 414.0 891.9 411.5 892.8 409.1 893.8 406.6 894.8 404.2 895.8 401.7 896.8 399.3 897.9 396.9 898.9 394.5 899.9 392.0 901.0 389.6 902.1 387.2 903.1 384.8 904.2 382.5 905.3 380.1 906.4 377.7 907.6 375.4 908.7 373.0 909.9 370.7 911.1 368.3 912.2 366.0 913.4 363.7 914.7 361.4 915.9 359.1 917.1 356.8 918.4 354.6 919.7 352.3 921.0 350.1 922.3 347.9 923.6 345.6 925.0 343.5 926.4 341.3 927.8 339.1 929.2 337.0 930.6 334.8 932.0 332.7 933.5 330.6 935.0 328.5 936.5 326.4 938.1 324.4 939.6 322.4 941.2 320.4 942.8 318.4 944.4 316.4 946.0 314.4 947.7 312.5 949.4 310.6 951.1 308.7 952.8 306.8 954.6 304.9 956.3 303.1 958.1 301.3 959.9 299.5 961.7 297.7 963.6 295.9 965.5 294.1 967.3 292.4 969.2 290.7 971.2 289.0 973.1 287.3 975.0 285.6 977.0 284.0 979.0 282.3 981.0 280.7 983.0 279.1 985.0 277.5 987.1 275.9 989.1 274.4 991.2 272.8 993.3 271.3 995.4 269.8 997.5 268.3 999.7 266.8 1001.8 265.3 1004.0 263.9 1006.1 262.4 1008.3 261.0 1010.5 259.6 1012.7 258.2 1014.9 256.8 1017.2 255.5 1019.4 254.1 1021.6 252.8 1023.9 251.4 1026.2 250.1 1028.4 248.8 1030.7 247.5 1033.0 246.2 1035.3 245.0 1037.6 243.7 1039.9 242.5 1042.3 241.2 1044.6 240.0 1046.9 238.8 1049.3 237.6 1051.6 236.5 1054.0 235.3 1056.4 234.1 1058.7 233.0 1061.1 231.8 1063.5 230.7 1065.9 229.6 1068.3 228.5 1070.6 227.4 1073.0 226.3 1075.4 225.2 1077.8 224.2 1080.2 223.1 1082.6 222.1 1085.0 221.0 1087.4 220.0 1089.9 219.0 1092.3 218.0 1094.7 217.0 1097.1 216.0 1099.5 215.0 1101.9 214.0 1104.4 213.1 1106.8 212.1 1109.2 211.2 1111.6 210.2 1114.1 209.3 1116.5 208.4 1118.9 207.5 1121.4 206.6 1123.8 205.7 1126.3 204.8 1128.7 203.9 1131.2 203.1 1133.6 202.2 1136.0 201.4 1138.5 200.5 1141.0 199.7 1143.4 198.9 1145.9 198.0 1148.3 197.2 1150.8 196.4 1153.2 195.6 1155.7 194.9 1158.2 194.1 1160.6 193.3 1163.1 192.6 1165.6 191.8 1168.1 191.1 1170.5 190.3 1173.0 189.6 1175.5 188.9 1178.0 188.1 1180.5 187.4 1182.9 186.7 1185.4 186.0 1187.9 185.3 1190.4 184.7 1192.9 184.0 1195.4 183.3 1197.9 182.7 1200.4 182.0 1202.9 181.4 1205.4 180.7 1207.9 180.1 1210.4 179.5 1212.9 178.9 1215.4 178.2 1217.9 177.6 1220.4 177.0 1222.9 176.5 1225.5 175.9 1228.0 175.3 1230.5 174.7 1233.0 174.1 1235.5 173.6 1238.1 173.0 1240.6 172.5 1243.1 171.9 1245.6 171.4 1248.2 170.9 1250.7 170.3 1253.2 169.8 1255.8 169.3 1258.3 168.8 1260.8 168.3 1263.4 167.8 1265.9 167.3 1268.5 166.8 1271.0 166.3 1273.6 165.9 1276.1 165.4 1278.6 164.9 1281.2 164.5 1283.7 164.0 1286.3 163.6 1288.9 163.1 1291.4 162.7 1294.0 162.3 1296.5 161.8 1299.1 161.4 1301.6 161.0 1304.2 160.6 1306.8 160.1 1309.3 159.7 1311.9 159.3 1314.5 158.9 1317.0 158.5 1319.6 158.2 1322.2 157.8 1324.8 157.4 1327.3 157.0 1329.9 156.6 1332.5 156.3 1335.1 155.9 1337.7 155.5 1340.2 155.2 1342.8 154.8 1345.4 154.5 1348.0 154.1 1350.6 153.8 1353.2 153.5 1355.8 153.1 1358.3 152.8 1360.9 152.5 1363.5 152.1 1366.1 151.8 1368.7 151.5 1371.3 151.2 1373.9 150.9 1376.5 150.6 1379.1 150.3 1381.7 150.0 1384.3 149.7 1386.9 149.4 1389.5 149.1 1392.1 148.8 1394.7 148.5 1397.4 148.2 1400.0 147.9 1402.6 147.7 1405.2 147.4" stroke="#1b6fe0" stroke-width="4.5"/>
<path d="M188.4 169.5L190.9 169.0 193.5 168.5 196.0 168.0 198.5 167.4 201.1 166.9 203.6 166.4 206.1 165.9 208.7 165.3 211.2 164.8 213.7 164.3 216.2 163.7 218.8 163.2 221.3 162.6 223.8 162.1 226.3 161.6 228.9 161.0 231.4 160.5 233.9 159.9 236.4 159.4 239.0 158.8 241.5 158.3 244.0 157.7 246.5 157.2 249.1 156.6 251.6 156.1 254.1 155.5 256.6 155.0 259.2 154.4 261.7 153.9 264.2 153.3 266.7 152.8 269.3 152.2 271.8 151.6 274.3 151.1 276.8 150.5 279.4 150.0 281.9 149.4 284.4 148.9 286.9 148.3 289.4 147.8 292.0 147.2 294.5 146.7 297.0 146.1 299.5 145.6 302.1 145.0 304.6 144.5 307.1 144.0 309.7 143.4 312.2 142.9 314.7 142.3 317.2 141.8 319.8 141.3 322.3 140.7 324.8 140.2 327.3 139.7 329.9 139.1 332.4 138.6 334.9 138.1 337.5 137.6 340.0 137.1 342.5 136.5 345.1 136.0 347.6 135.5 350.1 135.0 352.7 134.5 355.2 134.0 357.7 133.5 360.3 133.0 362.8 132.5 365.3 132.0 367.9 131.6 370.4 131.1 373.0 130.6 375.5 130.1 378.0 129.7 380.6 129.2 383.1 128.7 385.7 128.3 388.2 127.8 390.8 127.4 393.3 126.9 395.9 126.5 398.4 126.1 401.0 125.6 403.5 125.2 406.1 124.8 408.6 124.4 411.2 124.0 413.7 123.6 416.3 123.2 418.8 122.8 421.4 122.4 423.9 122.0 426.5 121.6 429.1 121.3 431.6 120.9 434.2 120.6 436.7 120.2 439.3 119.9 441.9 119.6 444.4 119.3 447.0 119.0 449.6 118.7 452.1 118.5 454.7 118.2 457.3 118.0 459.9 117.7 462.4 117.5 465.0 117.3 467.6 117.1 470.1 117.0 472.7 116.8 475.3 116.7 477.9 116.6 480.4 116.5 483.0 116.4 485.6 116.3 488.2 116.3 490.8 116.3 493.4 116.3 495.9 116.3 498.5 116.3 501.1 116.4 503.7 116.5 506.3 116.6 508.9 116.7 511.4 116.9 514.0 117.1 516.6 117.3 519.2 117.5 521.8 117.7 524.4 118.0 527.0 118.3 529.6 118.7 532.1 119.0 534.7 119.4 537.3 119.9 539.8 120.4 542.3 120.9 544.9 121.5 547.3 122.1 549.8 122.8 552.3 123.5 554.7 124.3 557.1 125.1 559.5 126.0 561.9 127.0 564.2 128.0 566.5 129.1 568.7 130.2 570.9 131.5 573.1 132.8 575.2 134.1 577.3 135.6 579.4 137.1 581.4 138.7 583.4 140.4 585.3 142.2 587.1 144.0 589.0 145.8 590.8 147.8 592.5 149.7 594.2 151.7 595.9 153.8 597.5 155.8 599.1 158.0 600.7 160.1 602.2 162.2 603.7 164.4 605.1 166.6 606.5 168.7 607.9 171.0 609.2 173.2 610.6 175.4 611.8 177.7 613.1 179.9 614.3 182.2 615.5 184.5 616.7 186.8 617.9 189.1 619.0 191.4 620.1 193.7 621.2 196.1 622.3 198.4 623.4 200.8 624.4 203.1 625.4 205.5 626.4 207.9 627.4 210.3 628.4 212.6 629.4 215.0 630.3 217.4 631.3 219.8 632.2 222.2 633.1 224.6 634.1 227.0 635.0 229.4 635.9 231.8 636.7 234.2 637.6 236.6 638.5 239.1 639.3 241.5 640.1 243.9 641.0 246.4 641.8 248.8 642.6 251.2 643.4 253.7 644.2 256.1 644.9 258.6 645.7 261.0 646.5 263.5 647.2 265.9 648.0 268.4 648.7 270.9 649.4 273.3 650.1 275.8 650.8 278.3 651.5 280.8 652.2 283.2 652.8 285.7 653.5 288.2 654.2 290.7 654.8 293.2 655.5 295.7 656.1 298.2 656.7 300.7 657.3 303.2 657.9 305.7 658.5 308.2 659.1 310.7 659.7 313.2 660.3 315.7 660.8 318.2 661.4 320.7 662.0 323.3 662.5 325.8 663.0 328.3 663.6 330.8 664.1 333.4 664.6 335.9 665.1 338.4 665.6 341.0 666.1 343.5 666.6 346.0 667.1 348.6 667.6 351.1 668.1 353.6 668.6 356.2 669.0 358.7 669.5 361.3 669.9 363.8 670.4 366.4 670.8 368.9 671.3 371.5 671.7 374.0 672.1 376.6 672.6 379.1 673.0 381.7 673.4 384.3 673.8 386.8 674.2 389.4 674.6 391.9 675.0 394.5 675.4 397.1 675.8 399.6 676.2 402.2 676.6 404.8 677.0 407.3 677.4 409.9 677.7 412.5 678.1 415.0 678.5 417.6 678.8 420.2 679.2 422.7 679.6 425.3 679.9 427.9 680.3 430.5 680.6 433.0 681.0 435.6 681.3 438.2 681.7 440.7 682.0 443.3 682.4 445.9 682.7 448.5 683.0 451.0 683.4 453.6 683.7 456.2 684.0 458.8 684.4 461.3 684.7 463.9 685.0 466.5 685.4 469.0 685.7 471.6 686.0 474.2 686.4 476.8 686.7 479.3 687.0 481.9 687.4 484.5 687.7 487.0 688.0 489.6 688.3 492.2 688.7 494.7 689.0 497.3 689.3 499.9 689.7 502.4 690.0 505.0 690.3 507.6 690.6 510.1 691.0 512.7 691.3 515.3 691.6 517.8 691.9 520.4 692.3 523.0 692.6 525.5 692.9 528.1 693.2 530.6 693.6 533.2 693.9 535.8 694.2 538.3 694.6 540.9 694.9 543.4 695.2 546.0 695.5 548.6 695.9 551.1 696.2 553.7 696.5 556.2 696.8 558.8 697.2 561.4 697.5 563.9 697.8 566.5 698.1 569.0 698.5 571.6 698.8 574.2 699.1 576.7 699.4 579.3 699.8 581.8 700.1 584.4 700.4 586.9 700.7 589.5 701.1 592.1 701.4 594.6 701.7 597.2 702.1 599.7 702.4 602.3 702.7 604.8 703.0 607.4 703.4 609.9 703.7 612.5 704.0 615.1 704.3 617.6 704.7 620.2 705.0 622.7 705.3 625.3 705.7 627.8 706.0 630.4 706.3 632.9 706.6 635.5 707.0 638.1 707.3 640.6 707.6 643.2 708.0 645.7 708.3 648.3 708.6 650.8 708.9 653.4 709.3 655.9 709.6 658.5 709.9 661.1 710.3 663.6 710.6 666.2 710.9 668.7 711.3 671.3 711.6 673.8 711.9 676.4 712.3 679.0 712.6 681.5 712.9 684.1 713.3 686.6 713.6 689.2 713.9 691.7 714.3 694.3 714.6 696.9 715.0 699.4 715.3 702.0 715.6 704.5 716.0 707.1 716.3 709.7 716.6 712.2 717.0 714.8 717.3 717.3 717.7 719.9 718.0 722.5 718.3 725.0 718.7 727.6 719.0 730.1 719.4 732.7 719.7 735.3 720.0 737.8 720.4 740.4 720.7 743.0 721.1 745.5 721.4 748.1 721.8 750.6 722.1 753.2 722.5 755.8 722.8 758.3 723.2 760.9 723.6 763.5 723.9 766.0 724.3 768.6 724.6 771.2 725.0 773.7 725.4 776.3 725.7 778.8 726.1 781.4 726.5 784.0 726.8 786.5 727.2 789.1 727.6 791.6 728.0 794.2 728.3 796.8 728.7 799.3 729.1 801.9 729.5 804.4 729.9 807.0 730.3 809.6 730.7 812.1 731.1 814.7 731.5 817.2 731.9 819.8 732.3 822.3 732.7 824.9 733.1 827.5 733.6 830.0 734.0 832.6 734.4 835.1 734.8 837.7 735.3 840.2 735.7 842.8 736.1 845.3 736.6 847.9 737.0 850.4 737.5 853.0 737.9 855.5 738.4 858.0 738.9 860.6 739.3 863.1 739.8 865.7 740.3 868.2 740.7 870.8 741.2 873.3 741.7 875.8 742.3 878.4 742.8 880.9 743.4 883.4 744.1 885.9 744.8 888.5 745.6 891.0 746.5 893.5 747.5 896.0 748.6 898.5 749.8 900.9 751.1 903.2 752.6 905.3 754.2 907.0 755.8 908.3 757.7 908.9 759.6 908.9 761.6 908.2 763.4 907.1 765.0 905.5 766.5 903.7 767.8 901.5 769.0 899.1 770.1 896.6 771.2 893.9 772.1 891.2 773.0 888.4 773.9 885.7 774.7 883.0 775.5 880.3 776.3 877.7 777.1 875.1 777.8 872.5 778.5 869.9 779.2 867.4 779.9 864.9 780.5 862.3 781.1 859.8 781.7 857.4 782.3 854.9 782.9 852.4 783.5 850.0 784.0 847.5 784.6 845.1 785.1 842.6 785.7 840.2 786.2 837.7 786.7 835.3 787.2 832.8 787.7 830.3 788.3 827.9 788.8 825.4 789.3 822.9 789.8 820.4 790.3 818.0 790.8 815.5 791.3 813.0 791.8 810.5 792.3 807.9 792.8 805.4 793.3 802.9 793.8 800.4 794.3 797.9 794.8 795.4 795.3 792.8 795.8 790.3 796.3 787.8 796.8 785.2 797.3 782.7 797.8 780.2 798.2 777.6 798.7 775.1 799.2 772.5 799.7 770.0 800.2 767.4 800.7 764.9 801.2 762.3 801.7 759.8 802.2 757.2 802.7 754.7 803.1 752.1 803.6 749.6 804.1 747.0 804.6 744.4 805.1 741.9 805.6 739.3 806.1 736.8 806.6 734.2 807.1 731.7 807.6 729.1 808.1 726.6 808.6 724.0 809.1 721.5 809.6 718.9 810.1 716.4 810.6 713.8 811.1 711.3 811.6 708.8 812.1 706.2 812.6 703.7 813.1 701.1 813.6 698.6 814.2 696.0 814.7 693.5 815.2 691.0 815.7 688.4 816.2 685.9 816.8 683.4 817.3 680.8 817.8 678.3 818.3 675.7 818.9 673.2 819.4 670.7 819.9 668.2 820.5 665.6 821.0 663.1 821.6 660.6 822.1 658.0 822.7 655.5 823.2 653.0 823.8 650.5 824.3 647.9 824.9 645.4 825.4 642.9 826.0 640.4 826.6 637.8 827.1 635.3 827.7 632.8 828.3 630.3 828.9 627.8 829.5 625.3 830.0 622.7 830.6 620.2 831.2 617.7 831.8 615.2 832.4 612.7 833.0 610.2 833.6 607.7 834.2 605.2 834.8 602.7 835.4 600.2 836.1 597.7 836.7 595.2 837.3 592.7 837.9 590.2 838.6 587.7 839.2 585.2 839.9 582.7 840.5 580.2 841.2 577.7 841.8 575.2 842.5 572.7 843.1 570.2 843.8 567.7 844.5 565.2 845.1 562.7 845.8 560.3 846.5 557.8 847.2 555.3 847.9 552.8 848.6 550.3 849.3 547.9 850.0 545.4 850.7 542.9 851.4 540.4 852.1 538.0 852.8 535.5 853.6 533.0 854.3 530.5 855.1 528.1 855.8 525.6 856.5 523.1 857.3 520.7 858.1 518.2 858.8 515.8 859.6 513.3 860.4 510.8 861.2 508.4 861.9 505.9 862.7 503.5 863.5 501.0 864.3 498.6 865.1 496.1 866.0 493.7 866.8 491.2 867.6 488.8 868.4 486.4 869.3 483.9 870.1 481.5 871.0 479.0 871.8 476.6 872.7 474.2 873.6 471.7 874.4 469.3 875.3 466.9 876.2 464.5 877.1 462.0 878.0 459.6 878.9 457.2 879.8 454.8 880.7 452.3 881.7 449.9 882.6 447.5 883.5 445.1 884.5 442.7 885.4 440.3 886.4 437.9 887.4 435.5 888.3 433.1 889.3 430.7 890.3 428.3 891.3 425.9 892.3 423.5 893.3 421.1 894.3 418.7 895.3 416.3 896.4 414.0 897.4 411.6 898.5 409.2 899.5 406.8 900.6 404.5 901.6 402.1 902.7 399.7 903.8 397.4 904.9 395.0 906.0 392.6 907.1 390.3 908.2 387.9 909.3 385.6 910.5 383.2 911.6 380.9 912.7 378.5 913.9 376.2 915.1 373.9 916.2 371.5 917.4 369.2 918.6 366.9 919.8 364.6 921.1 362.3 922.3 360.0 923.6 357.8 924.9 355.5 926.2 353.3 927.5 351.0 928.9 348.8 930.2 346.7 931.6 344.5 933.1 342.4 934.5 340.2 936.0 338.1 937.5 336.1 939.1 334.0 940.6 332.0 942.2 330.0 943.9 328.1 945.6 326.1 947.3 324.2 949.0 322.4 950.8 320.5 952.6 318.7 954.4 316.9 956.2 315.1 958.1 313.4 960.0 311.6 961.9 309.9 963.9 308.3 965.8 306.6 967.8 304.9 969.8 303.3 971.8 301.7 973.9 300.1 975.9 298.5 978.0 296.9 980.0 295.4 982.1 293.8 984.2 292.3 986.3 290.8 988.4 289.3 990.5 287.8 992.6 286.3 994.7 284.8 996.9 283.3 999.0 281.9 1001.2 280.4 1003.3 279.0 1005.5 277.6 1007.6 276.1 1009.8 274.7 1012.0 273.3 1014.2 271.9 1016.4 270.6 1018.6 269.2 1020.8 267.8 1023.0 266.5 1025.2 265.1 1027.4 263.8 1029.7 262.5 1031.9 261.2 1034.2 259.9 1036.4 258.6 1038.7 257.3 1040.9 256.1 1043.2 254.8 1045.5 253.6 1047.7 252.3 1050.0 251.1 1052.3 249.9 1054.6 248.7 1056.9 247.5 1059.2 246.3 1061.5 245.1 1063.8 244.0 1066.1 242.8 1068.4 241.7 1070.8 240.6 1073.1 239.4 1075.4 238.3 1077.8 237.2 1080.1 236.1 1082.5 235.0 1084.8 234.0 1087.2 232.9 1089.5 231.9 1091.9 230.8 1094.3 229.8 1096.6 228.8 1099.0 227.8 1101.4 226.8 1103.8 225.8 1106.1 224.8 1108.5 223.8 1110.9 222.9 1113.3 221.9 1115.7 221.0 1118.1 220.0 1120.5 219.1 1122.9 218.2 1125.3 217.3 1127.8 216.4 1130.2 215.5 1132.6 214.6 1135.0 213.8 1137.5 212.9 1139.9 212.1 1142.3 211.2 1144.8 210.4 1147.2 209.5 1149.7 208.7 1152.1 207.9 1154.5 207.1 1157.0 206.3 1159.5 205.5 1161.9 204.8 1164.4 204.0 1166.8 203.2 1169.3 202.5 1171.8 201.7 1174.3 201.0 1176.7 200.3 1179.2 199.5 1181.7 198.8 1184.2 198.1 1186.6 197.4 1189.1 196.7 1191.6 196.0 1194.1 195.3 1196.6 194.7 1199.1 194.0 1201.6 193.3 1204.1 192.7 1206.6 192.1 1209.1 191.4 1211.6 190.8 1214.1 190.2 1216.6 189.5 1219.1 188.9 1221.7 188.3 1224.2 187.7 1226.7 187.1 1229.2 186.5 1231.7 186.0 1234.3 185.4 1236.8 184.8 1239.3 184.2 1241.8 183.7 1244.4 183.1 1246.9 182.6 1249.4 182.0 1252.0 181.5 1254.5 181.0 1257.0 180.5 1259.6 179.9 1262.1 179.4 1264.6 178.9 1267.2 178.4 1269.7 177.9 1272.3 177.4 1274.8 176.9 1277.4 176.4 1279.9 176.0 1282.4 175.5 1285.0 175.0 1287.5 174.5 1290.1 174.1 1292.6 173.6 1295.2 173.2 1297.7 172.7 1300.3 172.3 1302.8 171.8 1305.4 171.4 1308.0 171.0 1310.5 170.5 1313.1 170.1 1315.6 169.7 1318.2 169.3 1320.7 168.9 1323.3 168.5 1325.8 168.0 1328.4 167.6 1330.9 167.2 1333.5 166.8 1336.1 166.5 1338.6 166.1 1341.2 165.7 1343.7 165.3 1346.3 164.9 1348.8 164.5 1351.4 164.2 1354.0 163.8 1356.5 163.4 1359.1 163.0 1361.6 162.7 1364.2 162.3 1366.7 162.0 1369.3 161.6 1371.8 161.2 1374.4 160.9 1376.9 160.5 1379.5 160.2 1382.0 159.8 1384.6 159.5 1387.1 159.1 1389.7 158.8 1392.2 158.5 1394.8 158.1 1397.3 157.8 1399.9 157.4 1402.4 157.1 1405.0 156.8" stroke="#2ea864" stroke-width="4.5"/>
<path d="M188.4 190.7L190.9 190.1 193.4 189.6 195.9 189.0 198.4 188.4 200.9 187.8 203.4 187.3 205.9 186.7 208.4 186.1 210.9 185.5 213.4 185.0 215.8 184.4 218.3 183.8 220.8 183.2 223.3 182.6 225.8 182.1 228.3 181.5 230.8 180.9 233.3 180.3 235.8 179.7 238.3 179.1 240.8 178.5 243.3 177.9 245.8 177.3 248.3 176.7 250.8 176.1 253.2 175.5 255.7 174.9 258.2 174.3 260.7 173.7 263.2 173.1 265.7 172.5 268.2 171.9 270.7 171.3 273.2 170.7 275.7 170.1 278.2 169.5 280.7 168.9 283.2 168.3 285.7 167.7 288.2 167.1 290.7 166.5 293.2 165.9 295.7 165.3 298.2 164.7 300.7 164.1 303.2 163.5 305.7 162.9 308.1 162.3 310.6 161.7 313.1 161.1 315.6 160.5 318.1 159.9 320.6 159.3 323.1 158.7 325.6 158.1 328.1 157.5 330.6 156.9 333.1 156.3 335.6 155.7 338.1 155.1 340.6 154.5 343.1 153.9 345.6 153.3 348.1 152.7 350.6 152.1 353.1 151.5 355.6 150.9 358.1 150.3 360.6 149.7 363.1 149.1 365.6 148.6 368.1 148.0 370.6 147.4 373.1 146.8 375.6 146.2 378.1 145.6 380.6 145.0 383.1 144.5 385.6 143.9 388.1 143.3 390.6 142.7 393.1 142.2 395.6 141.6 398.0 141.0 400.5 140.4 403.0 139.9 405.5 139.3 408.0 138.7 410.5 138.2 413.0 137.6 415.5 137.1 418.0 136.5 420.5 136.0 423.0 135.4 425.5 134.9 428.0 134.4 430.5 133.8 433.0 133.3 435.5 132.8 438.0 132.3 440.5 131.8 443.0 131.3 445.5 130.9 448.1 130.4 450.6 130.0 453.1 129.5 455.6 129.1 458.1 128.7 460.6 128.3 463.1 128.0 465.7 127.6 468.2 127.3 470.7 126.9 473.2 126.6 475.8 126.3 478.3 126.1 480.8 125.8 483.4 125.6 485.9 125.4 488.4 125.2 491.0 125.1 493.5 124.9 496.1 124.8 498.6 124.7 501.2 124.6 503.8 124.6 506.3 124.6 508.9 124.6 511.5 124.7 514.0 124.7 516.6 124.8 519.2 125.0 521.8 125.1 524.4 125.3 527.0 125.5 529.6 125.8 532.2 126.1 534.8 126.4 537.4 126.8 540.0 127.2 542.6 127.6 545.2 128.1 547.8 128.6 550.3 129.1 552.9 129.7 555.4 130.4 557.9 131.1 560.4 131.8 562.9 132.6 565.4 133.4 567.8 134.3 570.2 135.3 572.5 136.2 574.8 137.3 577.1 138.4 579.3 139.6 581.5 140.8 583.6 142.1 585.7 143.4 587.8 144.8 589.8 146.3 591.7 147.8 593.6 149.3 595.5 151.0 597.3 152.6 599.0 154.4 600.8 156.2 602.4 158.0 604.1 159.9 605.7 161.8 607.3 163.7 608.8 165.7 610.3 167.7 611.7 169.8 613.2 171.9 614.5 174.1 615.9 176.2 617.2 178.4 618.5 180.6 619.8 182.9 621.1 185.2 622.3 187.4 623.5 189.8 624.6 192.1 625.8 194.4 626.9 196.8 628.0 199.2 629.1 201.6 630.2 203.9 631.2 206.4 632.3 208.8 633.3 211.2 634.3 213.6 635.3 216.0 636.2 218.4 637.2 220.8 638.2 223.3 639.1 225.7 640.0 228.1 640.9 230.6 641.8 233.0 642.7 235.4 643.6 237.9 644.4 240.3 645.3 242.8 646.1 245.2 646.9 247.7 647.7 250.1 648.5 252.6 649.3 255.0 650.0 257.5 650.8 259.9 651.6 262.4 652.3 264.9 653.0 267.3 653.7 269.8 654.4 272.3 655.1 274.7 655.8 277.2 656.5 279.7 657.1 282.2 657.8 284.7 658.4 287.1 659.0 289.6 659.7 292.1 660.3 294.6 660.9 297.1 661.5 299.6 662.0 302.1 662.6 304.6 663.2 307.1 663.7 309.6 664.3 312.1 664.8 314.6 665.4 317.1 665.9 319.6 666.4 322.1 666.9 324.6 667.4 327.1 667.9 329.6 668.4 332.1 668.9 334.6 669.3 337.2 669.8 339.7 670.3 342.2 670.7 344.7 671.2 347.2 671.6 349.7 672.1 352.3 672.5 354.8 672.9 357.3 673.3 359.8 673.7 362.4 674.1 364.9 674.5 367.4 674.9 369.9 675.3 372.5 675.7 375.0 676.1 377.5 676.5 380.1 676.9 382.6 677.2 385.1 677.6 387.7 678.0 390.2 678.3 392.7 678.7 395.3 679.0 397.8 679.4 400.3 679.7 402.9 680.1 405.4 680.4 408.0 680.8 410.5 681.1 413.0 681.4 415.6 681.8 418.1 682.1 420.6 682.4 423.2 682.8 425.7 683.1 428.3 683.4 430.8 683.8 433.3 684.1 435.9 684.4 438.4 684.7 441.0 685.1 443.5 685.4 446.1 685.7 448.6 686.0 451.1 686.4 453.7 686.7 456.2 687.0 458.8 687.3 461.3 687.7 463.8 688.0 466.4 688.3 468.9 688.6 471.5 689.0 474.0 689.3 476.5 689.6 479.1 690.0 481.6 690.3 484.2 690.7 486.7 691.0 489.2 691.3 491.8 691.7 494.3 692.0 496.8 692.4 499.4 692.7 501.9 693.1 504.4 693.4 507.0 693.8 509.5 694.1 512.1 694.5 514.6 694.8 517.1 695.2 519.7 695.6 522.2 695.9 524.7 696.3 527.3 696.6 529.8 697.0 532.3 697.3 534.9 697.7 537.4 698.0 539.9 698.4 542.5 698.8 545.0 699.1 547.5 699.5 550.1 699.8 552.6 700.2 555.2 700.5 557.7 700.9 560.2 701.2 562.8 701.6 565.3 701.9 567.9 702.3 570.4 702.6 572.9 703.0 575.5 703.3 578.0 703.6 580.6 704.0 583.1 704.3 585.6 704.7 588.2 705.0 590.7 705.3 593.3 705.6 595.8 706.0 598.4 706.3 600.9 706.6 603.5 706.9 606.0 707.2 608.6 707.6 611.1 707.9 613.7 708.2 616.2 708.5 618.8 708.8 621.3 709.1 623.9 709.4 626.4 709.6 629.0 709.9 631.6 710.2 634.1 710.5 636.7 710.8 639.2 711.0 641.8 711.3 644.4 711.6 646.9 711.8 649.5 712.1 652.1 712.3 654.6 712.6 657.2 712.8 659.8 713.1 662.4 713.3 664.9 713.6 667.5 713.8 670.1 714.1 672.6 714.3 675.2 714.6 677.8 714.8 680.3 715.0 682.9 715.3 685.5 715.5 688.0 715.8 690.6 716.0 693.1 716.3 695.7 716.5 698.3 716.8 700.8 717.0 703.4 717.3 705.9 717.6 708.5 717.8 711.0 718.1 713.5 718.4 716.1 718.7 718.6 719.0 721.2 719.2 723.7 719.5 726.2 719.8 728.7 720.1 731.3 720.5 733.8 720.8 736.3 721.1 738.8 721.4 741.3 721.8 743.8 722.1 746.3 722.4 748.8 722.8 751.3 723.1 753.8 723.5 756.3 723.8 758.8 724.2 761.3 724.6 763.8 724.9 766.3 725.3 768.8 725.7 771.3 726.1 773.8 726.5 776.3 726.9 778.8 727.3 781.3 727.7 783.8 728.1 786.3 728.5 788.8 728.9 791.3 729.3 793.8 729.8 796.3 730.2 798.8 730.6 801.3 731.1 803.8 731.5 806.3 732.0 808.8 732.4 811.3 732.9 813.8 733.3 816.3 733.8 818.8 734.3 821.4 734.7 823.9 735.2 826.4 735.7 828.9 736.2 831.4 736.7 834.0 737.2 836.5 737.7 839.0 738.2 841.6 738.7 844.1 739.2 846.7 739.7 849.2 740.2 851.8 740.7 854.3 741.2 856.9 741.8 859.5 742.3 862.0 742.8 864.6 743.4 867.2 743.9 869.8 744.5 872.4 745.0 875.0 745.6 877.6 746.1 880.2 746.7 882.8 747.2 885.4 747.8 888.0 748.4 890.7 749.0 893.3 749.7 895.8 750.5 898.2 751.5 900.4 752.8 902.4 754.4 904.1 756.3 905.4 758.3 906.1 760.3 906.0 762.1 905.1 763.7 903.5 765.3 901.5 766.7 899.3 768.0 896.9 769.2 894.5 770.4 892.1 771.4 889.7 772.4 887.2 773.4 884.8 774.3 882.4 775.2 880.0 776.0 877.5 776.8 875.1 777.5 872.6 778.3 870.2 779.0 867.7 779.7 865.3 780.4 862.8 781.1 860.3 781.8 857.9 782.4 855.4 783.1 852.9 783.7 850.4 784.3 848.0 785.0 845.5 785.6 843.0 786.2 840.5 786.7 838.0 787.3 835.5 787.9 833.0 788.4 830.5 789.0 828.0 789.5 825.5 790.1 823.0 790.6 820.5 791.1 818.0 791.6 815.5 792.1 813.0 792.6 810.5 793.1 807.9 793.6 805.4 794.1 802.9 794.6 800.4 795.1 797.9 795.6 795.4 796.1 792.8 796.5 790.3 797.0 787.8 797.5 785.3 798.0 782.8 798.4 780.2 798.9 777.7 799.4 775.2 799.8 772.7 800.3 770.2 800.8 767.6 801.3 765.1 801.7 762.6 802.2 760.1 802.7 757.6 803.2 755.1 803.7 752.5 804.2 750.0 804.7 747.5 805.2 745.0 805.7 742.5 806.2 740.0 806.7 737.5 807.2 734.9 807.7 732.4 808.2 729.9 808.7 727.4 809.2 724.9 809.7 722.4 810.3 719.9 810.8 717.4 811.3 714.9 811.8 712.4 812.4 709.9 812.9 707.4 813.4 704.9 814.0 702.4 814.5 699.9 815.1 697.4 815.6 694.8 816.1 692.3 816.7 689.8 817.3 687.3 817.8 684.8 818.4 682.3 818.9 679.9 819.5 677.4 820.1 674.9 820.6 672.4 821.2 669.9 821.8 667.4 822.3 664.9 822.9 662.4 823.5 659.9 824.1 657.4 824.7 654.9 825.3 652.4 825.9 649.9 826.5 647.4 827.1 644.9 827.7 642.5 828.3 640.0 828.9 637.5 829.5 635.0 830.1 632.5 830.7 630.0 831.3 627.5 832.0 625.0 832.6 622.6 833.2 620.1 833.8 617.6 834.5 615.1 835.1 612.6 835.7 610.1 836.4 607.7 837.0 605.2 837.7 602.7 838.3 600.2 839.0 597.7 839.6 595.3 840.3 592.8 840.9 590.3 841.6 587.8 842.3 585.4 843.0 582.9 843.6 580.4 844.3 577.9 845.0 575.5 845.7 573.0 846.3 570.5 847.0 568.0 847.7 565.6 848.4 563.1 849.1 560.6 849.8 558.1 850.5 555.7 851.2 553.2 851.9 550.7 852.7 548.3 853.4 545.8 854.1 543.3 854.8 540.9 855.6 538.4 856.3 535.9 857.0 533.5 857.8 531.0 858.5 528.6 859.3 526.1 860.0 523.7 860.8 521.2 861.6 518.8 862.3 516.3 863.1 513.9 863.9 511.4 864.7 509.0 865.5 506.5 866.3 504.1 867.1 501.6 867.9 499.2 868.7 496.8 869.5 494.3 870.4 491.9 871.2 489.5 872.1 487.1 872.9 484.6 873.8 482.2 874.6 479.8 875.5 477.4 876.4 475.0 877.3 472.6 878.2 470.2 879.1 467.8 880.0 465.4 880.9 463.0 881.8 460.6 882.8 458.2 883.7 455.8 884.7 453.5 885.6 451.1 886.6 448.7 887.6 446.4 888.6 444.0 889.6 441.6 890.6 439.3 891.6 436.9 892.6 434.6 893.6 432.2 894.7 429.9 895.7 427.6 896.8 425.2 897.9 422.9 899.0 420.6 900.1 418.3 901.2 416.0 902.3 413.7 903.4 411.4 904.6 409.1 905.7 406.8 906.9 404.5 908.1 402.2 909.2 400.0 910.4 397.7 911.6 395.4 912.9 393.2 914.1 390.9 915.3 388.7 916.6 386.4 917.9 384.2 919.1 382.0 920.4 379.8 921.7 377.6 923.1 375.3 924.4 373.1 925.7 371.0 927.1 368.8 928.5 366.6 929.9 364.4 931.3 362.3 932.7 360.1 934.1 358.0 935.6 355.9 937.1 353.8 938.6 351.7 940.1 349.6 941.6 347.6 943.1 345.5 944.7 343.5 946.3 341.5 947.9 339.5 949.5 337.5 951.1 335.6 952.8 333.7 954.5 331.8 956.2 329.9 957.9 328.0 959.7 326.2 961.4 324.3 963.2 322.5 965.1 320.8 966.9 319.0 968.8 317.3 970.6 315.6 972.6 313.9 974.5 312.3 976.5 310.7 978.5 309.1 980.5 307.6 982.5 306.0 984.6 304.5 986.6 303.1 988.7 301.6 990.9 300.2 993.0 298.8 995.2 297.4 997.3 296.0 999.5 294.7 1001.7 293.3 1003.9 292.0 1006.2 290.7 1008.4 289.4 1010.7 288.1 1012.9 286.9 1015.2 285.6 1017.4 284.4 1019.7 283.1 1022.0 281.9 1024.3 280.6 1026.6 279.4 1028.9 278.2 1031.2 277.0 1033.5 275.8 1035.7 274.6 1038.0 273.3 1040.3 272.1 1042.6 270.9 1044.9 269.7 1047.1 268.4 1049.4 267.2 1051.7 266.0 1053.9 264.8 1056.2 263.5 1058.5 262.3 1060.7 261.1 1063.0 259.9 1065.2 258.7 1067.5 257.5 1069.8 256.3 1072.0 255.1 1074.3 253.9 1076.6 252.7 1078.9 251.6 1081.2 250.4 1083.4 249.3 1085.7 248.2 1088.0 247.1 1090.3 246.0 1092.7 244.9 1095.0 243.8 1097.3 242.7 1099.6 241.7 1101.9 240.6 1104.3 239.6 1106.6 238.6 1109.0 237.6 1111.3 236.6 1113.7 235.6 1116.0 234.6 1118.4 233.6 1120.7 232.7 1123.1 231.7 1125.5 230.8 1127.9 229.9 1130.2 228.9 1132.6 228.0 1135.0 227.1 1137.4 226.2 1139.8 225.4 1142.2 224.5 1144.6 223.6 1147.0 222.8 1149.4 221.9 1151.9 221.1 1154.3 220.3 1156.7 219.5 1159.1 218.7 1161.6 217.9 1164.0 217.1 1166.4 216.3 1168.9 215.5 1171.3 214.8 1173.7 214.0 1176.2 213.3 1178.7 212.5 1181.1 211.8 1183.6 211.1 1186.0 210.4 1188.5 209.7 1191.0 209.0 1193.4 208.3 1195.9 207.6 1198.4 206.9 1200.8 206.2 1203.3 205.6 1205.8 204.9 1208.3 204.3 1210.8 203.6 1213.3 203.0 1215.8 202.4 1218.2 201.8 1220.7 201.1 1223.2 200.5 1225.7 199.9 1228.2 199.3 1230.7 198.8 1233.2 198.2 1235.8 197.6 1238.3 197.0 1240.8 196.5 1243.3 195.9 1245.8 195.4 1248.3 194.8 1250.8 194.3 1253.3 193.7 1255.9 193.2 1258.4 192.7 1260.9 192.2 1263.4 191.6 1266.0 191.1 1268.5 190.6 1271.0 190.1 1273.5 189.6 1276.1 189.1 1278.6 188.7 1281.1 188.2 1283.6 187.7 1286.2 187.2 1288.7 186.8 1291.2 186.3 1293.8 185.8 1296.3 185.4 1298.8 184.9 1301.4 184.5 1303.9 184.0 1306.4 183.6 1309.0 183.1 1311.5 182.7 1314.0 182.3 1316.6 181.8 1319.1 181.4 1321.6 181.0 1324.2 180.6 1326.7 180.1 1329.2 179.7 1331.8 179.3 1334.3 178.9 1336.8 178.5 1339.4 178.1 1341.9 177.7 1344.4 177.3 1347.0 176.9 1349.5 176.5 1352.0 176.1 1354.6 175.7 1357.1 175.3 1359.6 174.9 1362.1 174.5 1364.7 174.1 1367.2 173.8 1369.7 173.4 1372.2 173.0 1374.8 172.6 1377.3 172.2 1379.8 171.8 1382.3 171.5 1384.8 171.1 1387.3 170.7 1389.9 170.3 1392.4 169.9 1394.9 169.6 1397.4 169.2 1399.9 168.8 1402.4 168.4 1404.9 168.0" stroke="#aa70dd" stroke-width="4.5"/>
</g>
<g stroke="#1a1a1a" stroke-width="4.4" fill="none">
<line x1="178.4" y1="918.6" x2="188.4" y2="918.6"/>
<line x1="168.3" y1="820.7" x2="188.4" y2="820.7"/>
<line x1="178.4" y1="722.8" x2="188.4" y2="722.8"/>
<line x1="168.3" y1="624.8" x2="188.4" y2="624.8"/>
<line x1="178.4" y1="526.9" x2="188.4" y2="526.9"/>
<line x1="168.3" y1="428.9" x2="188.4" y2="428.9"/>
<line x1="178.4" y1="330.9" x2="188.4" y2="330.9"/>
<line x1="168.3" y1="233.0" x2="188.4" y2="233.0"/>
<line x1="178.4" y1="135.0" x2="188.4" y2="135.0"/>
<line x1="289.6" y1="1017" x2="289.6" y2="1026.3"/>
<line x1="391.0" y1="1017" x2="391.0" y2="1036.0"/>
<line x1="492.4" y1="1017" x2="492.4" y2="1026.3"/>
<line x1="593.9" y1="1017" x2="593.9" y2="1036.0"/>
<line x1="695.3" y1="1017" x2="695.3" y2="1026.3"/>
<line x1="796.7" y1="1017" x2="796.7" y2="1036.0"/>
<line x1="898.1" y1="1017" x2="898.1" y2="1026.3"/>
<line x1="999.5" y1="1017" x2="999.5" y2="1036.0"/>
<line x1="1100.9" y1="1017" x2="1100.9" y2="1026.3"/>
<line x1="1202.4" y1="1017" x2="1202.4" y2="1036.0"/>
<line x1="1303.8" y1="1017" x2="1303.8" y2="1026.3"/>
</g>
<g fill="none">
<line x1="168.3" y1="1017.1" x2="1407.8" y2="1017.1" stroke="#bdbdbd" stroke-width="8"/>
<line x1="168.3" y1="1017.1" x2="1407.8" y2="1017.1" stroke="#000" stroke-width="3.2"/>
<line x1="168.3" y1="37.2" x2="1407.8" y2="37.2" stroke="#2e2e2e" stroke-width="5"/>
<line x1="1405.4" y1="34.7" x2="1405.4" y2="1036.3" stroke="#333" stroke-width="4.8"/>
<line x1="188.3" y1="34.7" x2="188.3" y2="1036.3" stroke="#363636" stroke-width="5.2"/>
</g>
<g fill="none" filter="url(#b)">
<line x1="1057.6" y1="705.0" x2="1175.2" y2="705.0" stroke="#474747" stroke-width="4.5"/>
<line x1="1057.6" y1="768.5" x2="1175.2" y2="768.5" stroke="#f03c3c" stroke-width="4.5"/>
<line x1="1057.6" y1="832.4" x2="1175.2" y2="832.4" stroke="#1b6fe0" stroke-width="4.5"/>
<line x1="1057.6" y1="896.0" x2="1175.2" y2="896.0" stroke="#2ea864" stroke-width="4.5"/>
<line x1="1057.6" y1="960.0" x2="1175.2" y2="960.0" stroke="#aa70dd" stroke-width="4.5"/>
</g>
</svg>
<div class="yl" style="top:998.4px">0. 0</div><div class="yl" style="top:802.5px">0. 2</div><div class="yl" style="top:606.6px">0. 4</div><div class="yl" style="top:410.7px">0. 6</div><div class="yl" style="top:214.8px">0. 8</div><div class="yl" style="top:18.9px">1. 0</div>
<div class="xl" style="left:128.4px">1750</div><div class="xl" style="left:331.2px">1800</div><div class="xl" style="left:534.1px">1850</div><div class="xl" style="left:736.9px">1900</div><div class="xl" style="left:939.7px">1950</div><div class="xl" style="left:1142.6px">2000</div><div class="xl" style="left:1345.4px">2050</div>
<div class="lt" style="top:678.7px">h=40nm</div><div class="lt" style="top:742.2px">h=50nm</div><div class="lt" style="top:806.1px">h=60nm</div><div class="lt" style="top:869.7px">h=70nm</div><div class="lt" style="top:933.7px">h=80nm</div>
<div class="xt">Wavelength λ(nm)</div>
<div class="yt">Transmittance</div>
</body></html>
